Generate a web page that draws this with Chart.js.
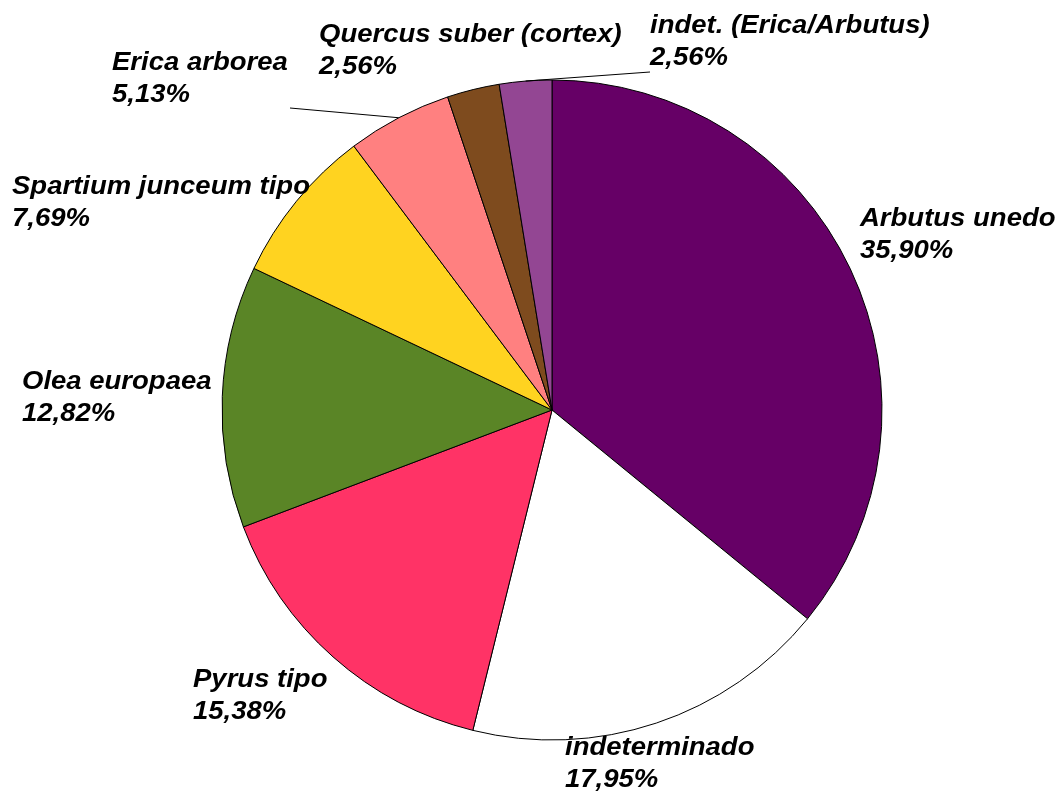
<!DOCTYPE html>
<html>
<head>
<meta charset="utf-8">
<script src="https://cdn.jsdelivr.net/npm/chart.js@4.4.1/dist/chart.umd.min.js"></script>
<style>
  html, body { margin: 0; padding: 0; background: #ffffff; }
  #wrap { width: 1062px; height: 794px; position: relative; }
</style>
</head>
<body>
<div id="wrap"><canvas id="c"></canvas></div>
<script>
// ---- data ----
const categories = [
  "Arbutus unedo",
  "indeterminado",
  "Pyrus tipo",
  "Olea europaea",
  "Spartium junceum tipo",
  "Erica arborea",
  "Quercus suber (cortex)",
  "indet. (Erica/Arbutus)"
];
const percentages = [35.90, 17.95, 15.38, 12.82, 7.69, 5.13, 2.56, 2.56];
const percentLabels = ["35,90%", "17,95%", "15,38%", "12,82%", "7,69%", "5,13%", "2,56%", "2,56%"];

// ---- styling / layout (not data) ----
const sliceColors = ["#660066", "#FFFFFF", "#FF3366", "#5A8526", "#FFD320", "#FF8080", "#7E4B1E", "#934693"];
// left x, baseline of first line (label text placement)
const labelPlacement = [
  [860, 226], [565, 755], [193, 687], [22, 389],
  [12, 194], [112, 70], [319, 42], [650, 33]
];
// leader lines: index -> end point
const leaderEnds = { 5: [290, 108], 7: [650, 72] };

const labelPlugin = {
  id: 'pieLabels',
  afterDatasetsDraw(chart) {
    const ctx = chart.ctx;
    const meta = chart.getDatasetMeta(0);
    ctx.save();
    // leader lines
    ctx.strokeStyle = '#000000';
    ctx.lineWidth = 1;
    Object.keys(leaderEnds).forEach(k => {
      const i = +k;
      const arc = meta.data[i];
      const p = arc.getProps(['x', 'y', 'startAngle', 'endAngle', 'outerRadius'], true);
      const mid = (p.startAngle + p.endAngle) / 2;
      const sx = p.x + Math.cos(mid) * p.outerRadius;
      const sy = p.y + Math.sin(mid) * p.outerRadius;
      ctx.beginPath();
      ctx.moveTo(sx, sy);
      ctx.lineTo(leaderEnds[k][0], leaderEnds[k][1]);
      ctx.stroke();
    });
    // labels
    ctx.fillStyle = '#000000';
    ctx.font = 'italic bold 25px "Liberation Sans", Arial, sans-serif';
    ctx.textBaseline = 'alphabetic';
    ctx.textAlign = 'left';
    categories.forEach((name, i) => {
      const [x, y] = labelPlacement[i];
      ctx.save();
      ctx.translate(x, y);
      ctx.scale(1.1, 1);
      ctx.fillText(name, 0, 0);
      ctx.fillText(percentLabels[i], 0, 32);
      ctx.restore();
    });
    ctx.restore();
  }
};

new Chart(document.getElementById('c'), {
  type: 'pie',
  data: {
    labels: categories,
    datasets: [{
      data: percentages,
      backgroundColor: sliceColors,
      borderColor: '#000000',
      borderWidth: 1
    }]
  },
  options: {
    responsive: true,
    maintainAspectRatio: false,
    animation: false,
    radius: 330,
    layout: { padding: { left: 42, right: 0, top: 26, bottom: 0 } },
    plugins: {
      legend: { display: false },
      tooltip: { enabled: false },
      title: { display: false }
    }
  },
  plugins: [labelPlugin]
});
</script>
</body>
</html>
